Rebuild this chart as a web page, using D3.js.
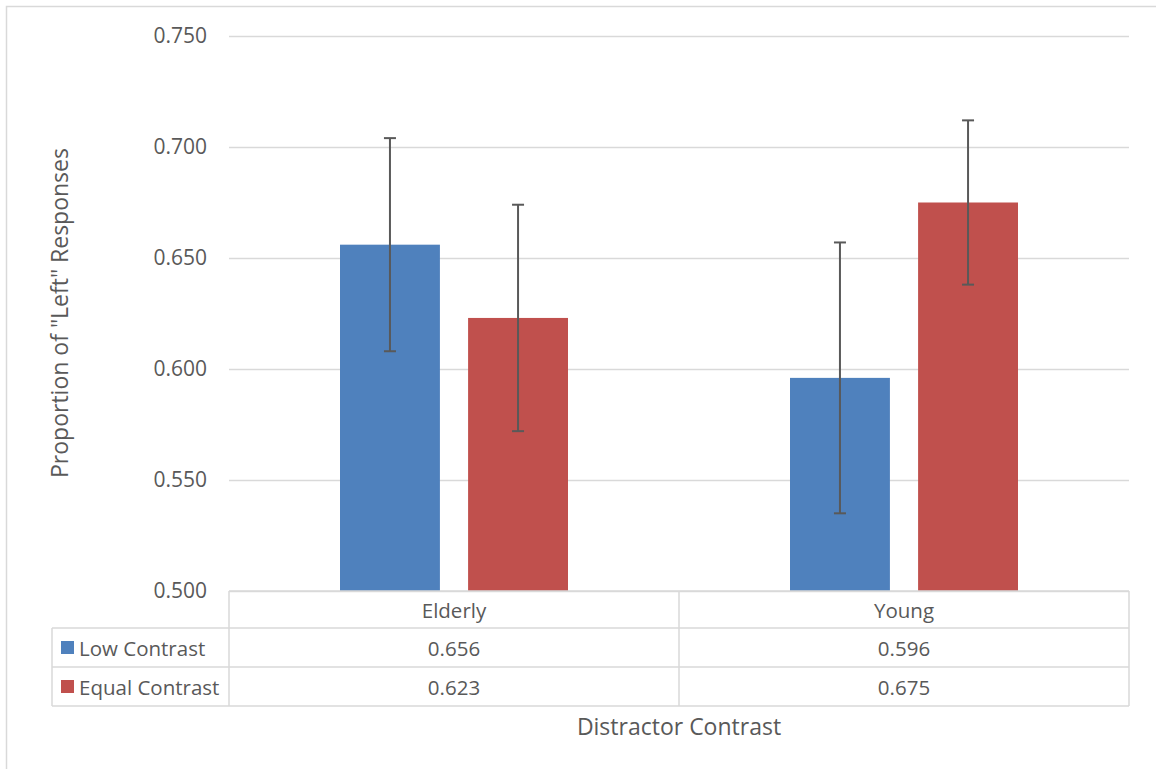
<!DOCTYPE html>
<html>
<head>
<meta charset="utf-8">
<script src="https://cdn.jsdelivr.net/npm/d3@7"></script>
<style>
  html, body { margin: 0; padding: 0; background: #fff; }
  svg { display: block; font-family: "Open Sans", "DejaVu Sans", sans-serif; }
</style>
</head>
<body>
<svg id="chart" width="1156" height="769"></svg>
<script>
const categories = ["Elderly", "Young"];
const seriesNames = ["Low Contrast", "Equal Contrast"];
const lowContrast = [0.656, 0.596];
const equalContrast = [0.623, 0.675];
const lowErr = [0.048, 0.061];
const equalErr = [0.051, 0.037];
const yTicks = [0.500, 0.550, 0.600, 0.650, 0.700, 0.750];
const colors = ["#4F81BD", "#C0504D"];

const seriesValues = [lowContrast, equalContrast];
const seriesErrors = [lowErr, equalErr];

const svg = d3.select("#chart");
const W = 1156, H = 769;
const plot = { left: 229, right: 1129, top: 36, bottom: 591 };
const tableLeft = 52;
const rowY = [591, 628, 667, 706];
const textColor = "#595959";
const gridColor = "#d9d9d9";

// outer border
svg.append("rect").attr("x", 6.5).attr("y", 6.5).attr("width", W + 10).attr("height", H + 10)
  .attr("fill", "#fff").attr("stroke", gridColor).attr("stroke-width", 1.5);

const y = d3.scaleLinear().domain([0.5, 0.75]).range([plot.bottom, plot.top]);
const x0 = d3.scaleBand().domain(categories).range([plot.left, plot.right]).paddingInner(0).paddingOuter(0);
// bars: 100px wide with 28px gap inside a 450px category
const groupInner = d3.scaleBand().domain(seriesNames)
  .range([111, x0.bandwidth() - 111]).paddingInner(0.22).paddingOuter(0);

// gridlines
const yAxis = d3.axisLeft(y).tickValues(yTicks).tickFormat(d3.format(".3f")).tickSize(-(plot.right - plot.left)).tickPadding(22);
const gy = svg.append("g").attr("transform", `translate(${plot.left},0)`).call(yAxis);
gy.select(".domain").remove();
gy.selectAll(".tick line").attr("stroke", gridColor).attr("stroke-width", 1.5);
gy.selectAll(".tick text").attr("fill", textColor).style("font-size", "21px")
  .attr("font-family", "'Open Sans', sans-serif");

// bars
seriesNames.forEach((s, si) => {
  svg.append("g").selectAll("rect").data(categories).join("rect")
    .attr("x", (c) => x0(c) + groupInner(s))
    .attr("width", groupInner.bandwidth())
    .attr("y", (c, i) => y(seriesValues[si][i]))
    .attr("height", (c, i) => y(0.5) - y(seriesValues[si][i]))
    .attr("fill", colors[si]);
});

// error bars
seriesNames.forEach((s, si) => {
  const g = svg.append("g").attr("stroke", "#595959").attr("stroke-width", 2).attr("fill", "none");
  categories.forEach((c, i) => {
    const cx = x0(c) + groupInner(s) + groupInner.bandwidth() / 2;
    const v = seriesValues[si][i], e = seriesErrors[si][i];
    const y1 = y(v + e), y2 = y(v - e);
    g.append("line").attr("x1", cx).attr("x2", cx).attr("y1", y1).attr("y2", y2);
    g.append("line").attr("x1", cx - 6).attr("x2", cx + 6).attr("y1", y1).attr("y2", y1);
    g.append("line").attr("x1", cx - 6).attr("x2", cx + 6).attr("y1", y2).attr("y2", y2);
  });
});

// data table
const tg = svg.append("g").attr("stroke", gridColor).attr("stroke-width", 1.5);
tg.append("line").attr("x1", plot.left).attr("x2", plot.right).attr("y1", rowY[0]).attr("y2", rowY[0]);
[1, 2, 3].forEach(r => tg.append("line").attr("x1", tableLeft).attr("x2", plot.right).attr("y1", rowY[r]).attr("y2", rowY[r]));
tg.append("line").attr("x1", tableLeft).attr("x2", tableLeft).attr("y1", rowY[1]).attr("y2", rowY[3]);
[plot.left, ...categories.map(c => x0(c) + x0.bandwidth())].forEach(xx =>
  tg.append("line").attr("x1", xx).attr("x2", xx).attr("y1", rowY[0]).attr("y2", rowY[3]));

const fmt = d3.format(".3f");
svg.append("g").selectAll("text").data(categories).join("text")
  .attr("x", c => x0(c) + x0.bandwidth() / 2).attr("y", (rowY[0] + rowY[1]) / 2)
  .attr("text-anchor", "middle").attr("dominant-baseline", "central")
  .attr("fill", textColor).style("font-size", "20.5px").text(c => c);

seriesNames.forEach((s, si) => {
  const cy = (rowY[si + 1] + rowY[si + 2]) / 2;
  svg.append("rect").attr("x", 61).attr("y", cy - 6.5).attr("width", 13).attr("height", 13).attr("fill", colors[si]);
  svg.append("text").attr("x", 79).attr("y", cy).attr("dominant-baseline", "central")
    .attr("fill", textColor).style("font-size", "20.5px").text(s);
  svg.append("g").selectAll("text").data(categories).join("text")
    .attr("x", c => x0(c) + x0.bandwidth() / 2).attr("y", cy)
    .attr("text-anchor", "middle").attr("dominant-baseline", "central")
    .attr("fill", textColor).style("font-size", "20.5px").text((c, i) => fmt(seriesValues[si][i]));
});

// axis titles
svg.append("text").attr("x", (plot.left + plot.right) / 2).attr("y", 726)
  .attr("text-anchor", "middle").attr("dominant-baseline", "central")
  .attr("fill", textColor).style("font-size", "23px").text("Distractor Contrast");
svg.append("text").attr("transform", `translate(59,313) rotate(-90)`)
  .attr("text-anchor", "middle").attr("dominant-baseline", "central")
  .attr("fill", textColor).style("font-size", "23px").text('Proportion of "Left" Responses');
</script>
</body>
</html>
